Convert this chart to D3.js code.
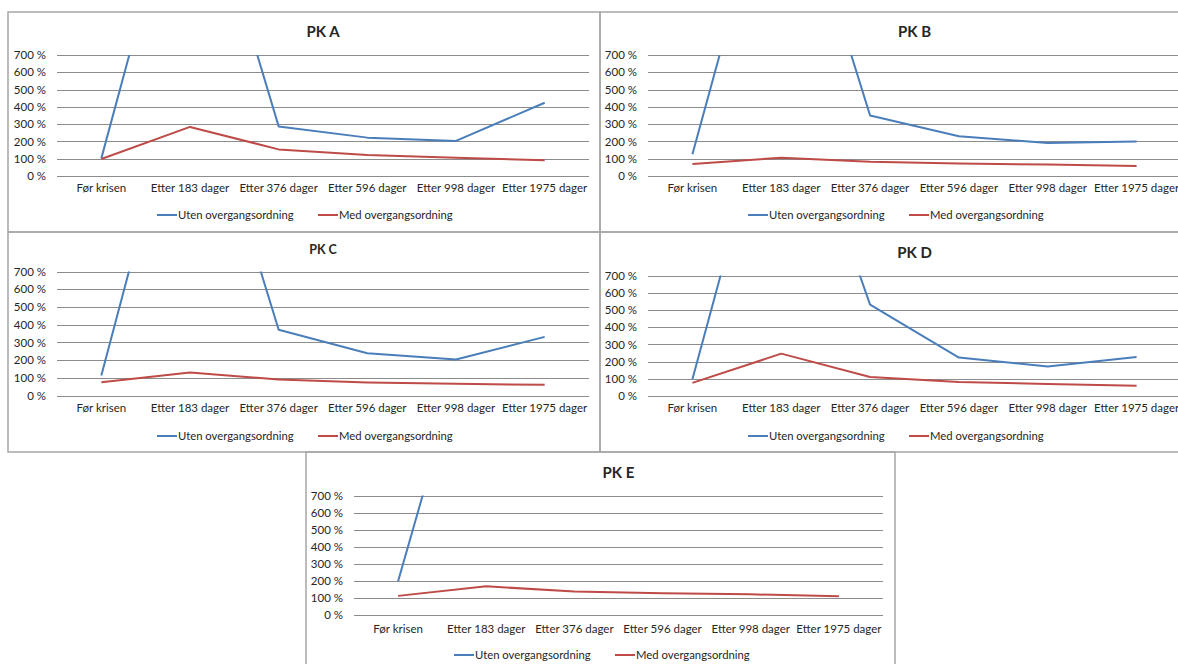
<!DOCTYPE html>
<html><head><meta charset="utf-8">
<script src="https://cdn.jsdelivr.net/npm/d3@7"></script>
<style>
html,body{margin:0;padding:0;background:#fff;overflow:hidden;}
text{font-family:Lato,"Open Sans","Liberation Sans",sans-serif;fill:#262626;}
</style></head>
<body>
<svg id="chart" width="1178" height="664"></svg>
<script>
// ---- data ----
const categories = ["Før krisen","Etter 183 dager","Etter 376 dager","Etter 596 dager","Etter 998 dager","Etter 1975 dager"];
const yTickValues = [0,100,200,300,400,500,600,700];
const seriesNames = ["Uten overgangsordning","Med overgangsordning"];
const titles = ["PK A","PK B","PK C","PK D","PK E"];

const utenA = [102, 2000, 287, 222, 203, 424];
const medA  = [98, 284, 154, 121, 105, 91];
const utenB = [126, 2000, 350, 230, 191, 200];
const medB  = [70, 106, 83, 73, 66, 58];
const utenC = [113, 2000, 371, 239, 203, 331];
const medC  = [75, 130, 90, 73, 66, 60];
const utenD = [97, 2000, 531, 223, 171, 227];
const medD  = [76, 246, 110, 81, 70, 60];
const utenE = [198, 2000, 1900, 1800, 1700, 1600];
const medE  = [112, 168, 137, 127, 121, 110];

// ---- layout ----
const panels = [
  {title:titles[0], uten:utenA, med:medA, frame:[8,12,592,220], plotL:57, plotR:589, yTop:55, yBot:176, titleY:37, titleSize:15, catY:194, legY:219},
  {title:titles[1], uten:utenB, med:medB, frame:[600,12,600,220], plotL:648, plotR:1181, yTop:55, yBot:176, titleY:37, titleSize:15, catY:194, legY:219},
  {title:titles[2], uten:utenC, med:medC, frame:[8,232,592,220], plotL:57, plotR:589, yTop:271.5, yBot:395.5, titleY:254, titleSize:12.5, catY:414, legY:440},
  {title:titles[3], uten:utenD, med:medD, frame:[600,232,600,220], plotL:648, plotR:1181, yTop:275.5, yBot:396, titleY:258, titleSize:15, catY:414, legY:440},
  {title:titles[4], uten:utenE, med:medE, frame:[306,452,589,230], plotL:354, plotR:883, yTop:495.5, yBot:615, titleY:478, titleSize:15, catY:635, legY:659}
];
const colors = ["#4a7ebb","#be4b48"];

const svg = d3.select("#chart");
svg.append("rect").attr("width",1178).attr("height",664).attr("fill","#fff");

panels.forEach((p,i)=>{
  const g = svg.append("g");
  const x = d3.scaleBand().domain(categories).range([p.plotL,p.plotR]);
  const y = d3.scaleLinear().domain([0,700]).range([p.yBot,p.yTop]);

  // gridlines
  g.selectAll("line.grid").data(yTickValues).join("line")
    .attr("x1",p.plotL).attr("x2",p.plotR)
    .attr("y1",d=>Math.round(y(d))+0.5).attr("y2",d=>Math.round(y(d))+0.5)
    .attr("stroke","#8c8c8c").attr("stroke-width",1);

  // y axis labels
  const ya = d3.axisLeft(y).tickValues(yTickValues).tickSize(0).tickPadding(11).tickFormat(d=>d+" %");
  const yg = g.append("g").attr("transform",`translate(${p.plotL},0)`).call(ya);
  yg.select(".domain").remove();
  yg.selectAll("text").attr("font-size",11.5).style("font-family","Lato,'Open Sans',sans-serif").attr("fill","#262626");

  // x labels
  const xa = d3.axisBottom(x).tickSize(0).tickPadding(0);
  const xg = g.append("g").attr("transform",`translate(0,${p.catY-10})`).call(xa);
  xg.select(".domain").remove();
  xg.selectAll("text").attr("font-size",11.5).style("font-family","Lato,'Open Sans',sans-serif").attr("fill","#262626");

  // clip
  const cid = "clip"+i;
  svg.append("clipPath").attr("id",cid).append("rect")
    .attr("x",p.plotL-5).attr("y",y(700)).attr("width",p.plotR-p.plotL+10).attr("height",p.yBot-y(700)+10);

  const line = d3.line().x((d,j)=>x(categories[j])+x.bandwidth()/2).y(d=>y(d));
  [p.uten,p.med].forEach((s,k)=>{
    g.append("path").datum(s).attr("d",line).attr("fill","none")
      .attr("stroke",colors[k]).attr("stroke-width",2).attr("stroke-linejoin","round")
      .attr("clip-path",`url(#${cid})`);
  });

  // title
  g.append("text").attr("x",(p.plotL+p.plotR)/2).attr("y",p.titleY)
    .attr("text-anchor","middle").attr("font-weight","bold").attr("font-size",p.titleSize).text(p.title);

  // legend
  const lx = p.plotL+100;
  const legItems = [{x:lx},{x:lx+161}];
  legItems.forEach((it,k)=>{
    g.append("line").attr("x1",it.x).attr("x2",it.x+20).attr("y1",p.legY-4).attr("y2",p.legY-4)
      .attr("stroke",colors[k]).attr("stroke-width",2);
    g.append("text").attr("x",it.x+21).attr("y",p.legY).attr("font-size",11.3).text(seriesNames[k]);
  });

  // frame
  const [fx,fy,fw,fh] = p.frame;
  g.append("rect").attr("x",fx).attr("y",fy).attr("width",fw).attr("height",fh)
    .attr("fill","none").attr("stroke","#a6a6a6").attr("stroke-width",1.5);
});
</script>
</body></html>
